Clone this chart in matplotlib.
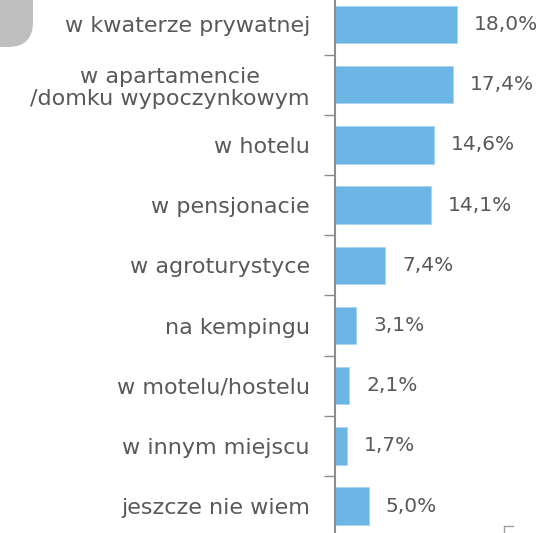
import matplotlib
matplotlib.use("Agg")
import matplotlib.pyplot as plt
from matplotlib.patches import FancyBboxPatch
from matplotlib.lines import Line2D

categories = ["w kwaterze prywatnej", "w apartamencie\n/domku wypoczynkowym", "w hotelu",
              "w pensjonacie", "w agroturystyce", "na kempingu", "w motelu/hostelu",
              "w innym miejscu", "jeszcze nie wiem"]
values = [18.0, 17.4, 14.6, 14.1, 7.4, 3.1, 2.1, 1.7, 5.0]
value_labels = ["18,0%", "17,4%", "14,6%", "14,1%", "7,4%", "3,1%", "2,1%", "1,7%", "5,0%"]

W, H, DPI = 543, 533, 100
fig = plt.figure(figsize=(W / DPI, H / DPI), dpi=DPI)
fig.patch.set_facecolor("white")

ax_left = 335 / W
ax = fig.add_axes([ax_left, 0, 1 - ax_left, 1])
ax.set_facecolor("none")

txt = "#595959"
font = "DejaVu Sans"
fs = 16

idx = list(range(len(categories)))
ax.barh(idx, values, height=0.62, color="#6cb6e6", edgecolor="#a9d4f0", linewidth=0.6)
ax.set_xlim(0, 208 / 6.78)
step = 60.2
ax.set_ylim((H - 24.5) / step, -24.5 / step)

for i, (v, lab) in enumerate(zip(values, value_labels)):
    ax.text(v + 17 / 6.78, i, lab, va="center", ha="left", color=txt, fontsize=14.5, family=font)

ax.set_yticks(idx)
ax.set_yticklabels(categories, fontsize=fs, color=txt, family=font, multialignment="center",
                   linespacing=1.13)
ax.tick_params(axis="y", which="major", length=0, pad=18)
ax.set_yticks([i + 0.5 for i in idx[:-1]], minor=True)
ax.tick_params(axis="y", which="minor", length=8, width=1, color="#8c8c8c", direction="out")
ax.set_xticks([])
for s in ["top", "right", "bottom"]:
    ax.spines[s].set_visible(False)
ax.spines["left"].set_color("#8c8c8c")
ax.spines["left"].set_linewidth(1.5)

blob = FancyBboxPatch((-40, H - 47), 73, 100, boxstyle="round,pad=0,rounding_size=25",
                      transform=None, facecolor="#bfbfbf", edgecolor="none")
fig.add_artist(blob)
fig.add_artist(Line2D([504, 513], [H - 526, H - 526], transform=None, color="#a0a0a0", lw=1))
fig.add_artist(Line2D([504, 504], [H - 526, H - 534], transform=None, color="#a0a0a0", lw=1))

fig.savefig("out.png", dpi=DPI, facecolor="white")
